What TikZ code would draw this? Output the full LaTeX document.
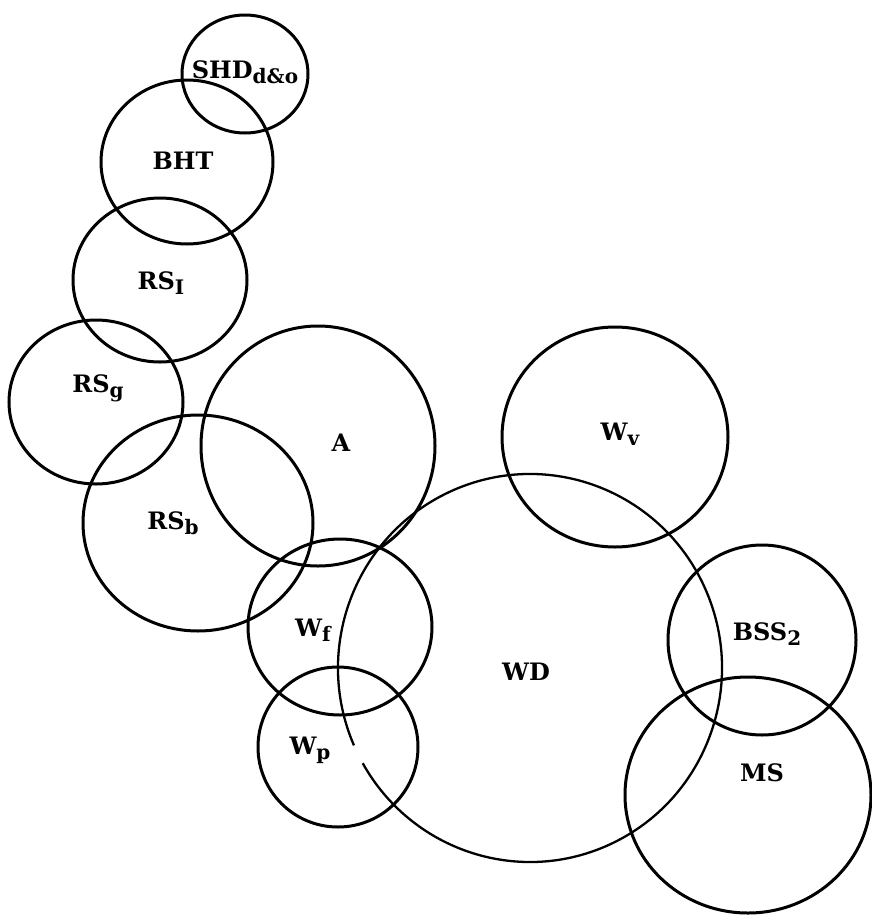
\documentclass[tikz,border=0pt]{standalone}
\usepackage{fontspec}
\setmainfont{DejaVu Serif}
\newcommand{\lowsub}[1]{\raisebox{-0.4ex}{\fontsize{20}{20}\selectfont #1}}
\tikzset{
  ring/.style={line width=3pt},
  thinring/.style={line width=2.3pt},
  lbl/.style={font=\fontsize{24}{28}\selectfont\bfseries, inner sep=0pt}
}
\begin{document}
\begin{tikzpicture}[x=1pt,y=-1pt]
\useasboundingbox[fill=white] (0,0) rectangle (871,916);
% circles
\draw[ring] (245,74) ellipse [x radius=63, y radius=59];
\draw[ring] (187,162) ellipse [x radius=86, y radius=82];
\draw[ring] (160,280) ellipse [x radius=87, y radius=82];
\draw[ring] (96,402) ellipse [x radius=87, y radius=82];
\draw[ring] (318,446) ellipse [x radius=117, y radius=120];
\draw[ring] (198,523) ellipse [x radius=115, y radius=108];
\draw[ring] (615,437) ellipse [x radius=113, y radius=110];
\draw[ring] (340,627) ellipse [x radius=92, y radius=88];
\draw[ring] (338,747) ellipse [x radius=80, y radius=80];
\draw[thinring] (530,668) ++(156.5:192 and 194) arc [start angle=156.5, end angle=510.6, x radius=192, y radius=194];
\draw[ring] (762,640) ellipse [x radius=94, y radius=95];
\draw[ring] (748,795) ellipse [x radius=123, y radius=118];
% labels
\node[lbl] (shd) at (245,72) {SHD\lowsub{d\&o}};
\node[lbl] (bht) at (183,161) {BHT};
\node[lbl] (rsi) at (161,283) {RS\lowsub{I}};
\node[lbl] (rsg) at (98,388) {RS\lowsub{g}};
\node[lbl] (a) at (341,443) {A};
\node[lbl] (rsb) at (173,523) {RS\lowsub{b}};
\node[lbl] (wv) at (620,434) {W\lowsub{v}};
\node[lbl] (wf) at (313,630) {W\lowsub{f}};
\node[lbl] (wp) at (310,750) {W\lowsub{p}};
\node[lbl] (wd) at (526,672) {WD};
\node[lbl] (bss) at (767,634) {BSS\lowsub{2}};
\node[lbl] (ms) at (762,773) {MS};
\end{tikzpicture}
\end{document}
